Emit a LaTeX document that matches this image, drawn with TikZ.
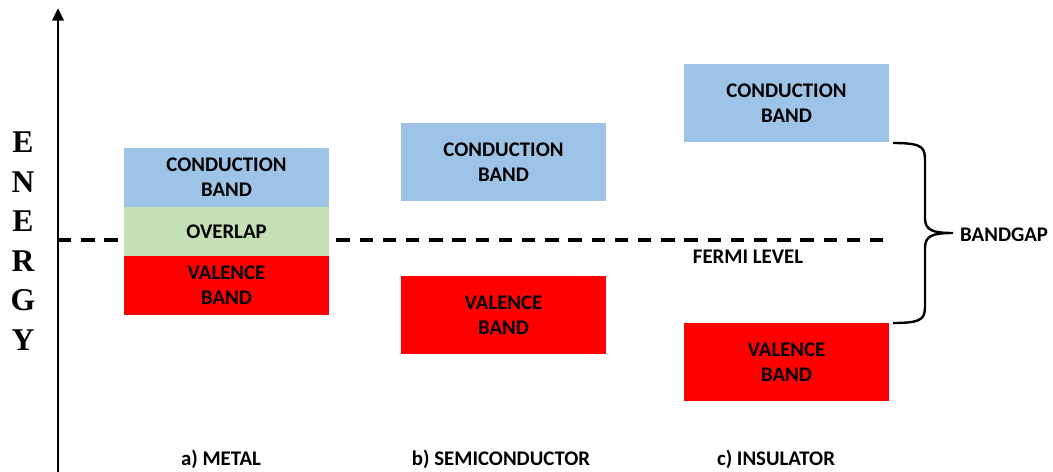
\documentclass[tikz,border=0pt]{standalone}
\usepackage{fontspec}
\setmainfont{Carlito}
\newfontfamily\energyfont{Liberation Serif}
\usepackage{tikz}
\usepackage{xcolor}
\usetikzlibrary{positioning, arrows.meta}

\definecolor{cbblue}{HTML}{9DC3E6}
\definecolor{ovgreen}{HTML}{C5E0B4}
\definecolor{vbred}{HTML}{FF0000}

\begin{document}
\begin{tikzpicture}[
  x=0.025cm, y=-0.025cm,
  band/.style={rectangle, draw=none, outer sep=0pt, inner sep=0pt, minimum width=5.125cm, align=center, font=\fontsize{14.8}{17.8}\selectfont\bfseries},
  cond/.style={band, fill=cbblue},
  val/.style={band, fill=vbred},
  over/.style={band, fill=ovgreen, minimum height=1.225cm},
  caption/.style={font=\fontsize{14.8}{17.8}\selectfont\bfseries},
  axis/.style={draw, line width=2pt, -{Triangle[width=8pt, length=9pt]}},
  fermi/.style={draw, line width=2.2pt, dash pattern=on 9.5pt off 7pt},
  bracket/.style={draw, line width=1.7pt}
]
  \useasboundingbox (0,0) rectangle (1053,472);

  \coordinate (abot) at (58,472);
  \coordinate (atop) at (58,8);
  \coordinate (fstart) at (58,240);
  \coordinate (fend) at (888,240);

  \draw [fermi] (fstart) -- (fend);
  \draw [axis] (abot) -- (atop);

  \node [font=\energyfont\fontsize{22.5}{28.1}\selectfont\bfseries, align=center] (energy) at (23,241) {E\\N\\E\\R\\G\\Y};

  \node [cond, minimum height=1.475cm, anchor=north west] (mcb) at (124,148) {CONDUCTION\\BAND};
  \node [over, below=0pt of mcb] (mov) {OVERLAP};
  \node [val, minimum height=1.475cm, below=0pt of mov] (mvb) {VALENCE\\BAND};

  \node [cond, minimum height=1.95cm, anchor=north west] (scb) at (401,123) {CONDUCTION\\BAND};
  \node [val, minimum height=1.95cm, anchor=north west] (svb) at (401,276) {VALENCE\\BAND};

  \node [cond, minimum height=1.95cm, anchor=north west] (icb) at (684,64) {CONDUCTION\\BAND};
  \node [val, minimum height=1.95cm, anchor=north west] (ivb) at (684,323) {VALENCE\\BAND};

  \node [caption] (flevel) at (748,257) {FERMI LEVEL};

  \coordinate (btop) at (893,143);
  \coordinate (bbot) at (893,323);
  \coordinate (btip) at (953,233);
  \draw [bracket] (btop) .. controls (925,143) and (925,148) .. (925,163) -- (925,218)
    .. controls (925,230) and (932,233) .. (btip)
    .. controls (932,233) and (925,236) .. (925,248) -- (925,303)
    .. controls (925,318) and (925,323) .. (bbot);
  \node [caption, anchor=east] (gap) at (1053,235) {BANDGAP};

  \node [caption] (metal) at (221,459) {a) METAL};
  \node [caption] (semi) at (501,459) {b) SEMICONDUCTOR};
  \node [caption] (insul) at (776,459) {c) INSULATOR};
\end{tikzpicture}
\end{document}
